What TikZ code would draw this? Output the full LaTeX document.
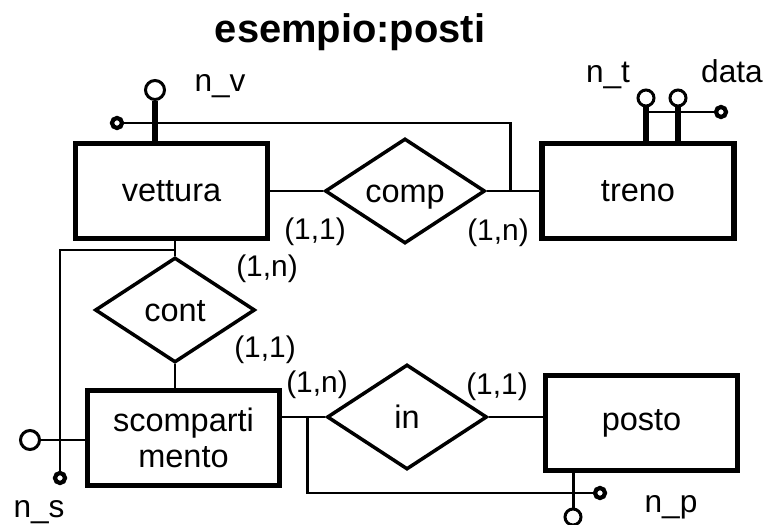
\documentclass[tikz,border=0pt]{standalone}
\usepackage{fontspec}
\setmainfont{Liberation Sans}
\usetikzlibrary{shapes.geometric,calc}

\newcommand{\relname}[1]{\raisebox{-0.35em}[0pt][0pt]{#1}}

\tikzset{
  entity/.style={draw, line width=3pt, minimum width=3.84cm, minimum height=1.9cm,
    inner sep=0pt, align=center, font=\fontsize{18.5}{20.5}\selectfont},
  relation/.style={draw, diamond, line width=2pt, minimum width=3.2cm, minimum height=2.1cm,
    inner sep=0pt, font=\fontsize{18.5}{20.5}\selectfont},
  attr/.style={draw, circle, line width=1.7pt, fill=white, inner sep=0pt, minimum size=#1},
  attr/.default=0.38cm,
  ident/.style={draw, circle, line width=2.4pt, fill=white, inner sep=0pt, minimum size=0.2cm},
  conn/.style={line width=1.7pt},
  stem/.style={line width=3pt},
  attrname/.style={anchor=base, inner sep=0pt, font=\fontsize{18}{18}\selectfont},
  card/.style={inner sep=0pt, font=\fontsize{17}{17}\selectfont}
}

\begin{document}
\begin{tikzpicture}[x=0.02cm, y=0.02cm]
  \useasboundingbox (0,0) rectangle (766,524);

  \node[anchor=base, font=\bfseries\fontsize{22.7}{24}\selectfont] (title) at (350,481) {esempio:posti};

  \node[entity] (vettura) at (171.5,333) {vettura};
  \node[entity] (treno) at (638,333) {treno};
  \node[entity] (scomp) at (183.5,86) {scomparti\\mento};
  \node[entity] (posto) at (641.5,101) {posto};

  \node[relation] (comp) at (405,333) {\relname{comp}};
  \node[relation] (cont) at (175,214) {\relname{cont}};
  \node[relation] (in) at (407,107) {\relname{in}};

  \draw[conn] (vettura) -- (comp) -- (treno);
  \draw[conn] (cont.north) -- (cont.north |- vettura.south);
  \draw[conn] (cont.south) -- (cont.south |- scomp.north);
  \draw[conn] (in.west) -- (in.west -| scomp.east);
  \draw[conn] (in.east) -- (in.east -| posto.west);

  % attributes and identifiers
  \node[attr] (nv) at (155,434) {};
  \node[ident] (idv) at (117,401) {};
  \coordinate (kv) at (510,333);
  \draw[conn] (idv) -| (kv);
  \draw[stem] (nv) -- (nv |- vettura.north);

  \node[attr=0.32cm] (nt) at (646,426) {};
  \node[attr=0.32cm] (data) at (678,426) {};
  \node[ident] (idt) at (721,412) {};
  \draw[conn] (idt) -- (idt -| nt);
  \draw[stem] (nt) -- (nt |- treno.north);
  \draw[stem] (data) -- (data |- treno.north);

  \node[attr] (ns) at (30,84) {};
  \node[ident] (ids) at (60,46) {};
  \coordinate (ks) at (175,274);
  \draw[conn] (ids) |- (ks);
  \draw[conn] (ns) -- (ns -| scomp.west);

  \node[attr=0.32cm] (np) at (573,7) {};
  \node[ident] (idp) at (600,31) {};
  \coordinate (kp) at (307,107);
  \draw[conn] (idp) -| (kp);
  \draw[conn] (np) -- (np |- posto.south);

  \node[attrname] (lnv) at (220,432) {n\_v};
  \node[attrname] (lnt) at (608,441) {n\_t};
  \node[attrname] (ldata) at (732,441) {data};
  \node[attrname] (lns) at (39,7) {n\_s};
  \node[attrname] (lnp) at (671,12) {n\_p};

  % cardinalities
  \node[card] (c1) at (315,292) {(1,1)};
  \node[card] (c2) at (498,291) {(1,n)};
  \node[card] (c3) at (267,255) {(1,n)};
  \node[card] (c4) at (265,174) {(1,1)};
  \node[card] (c5) at (317,139) {(1,n)};
  \node[card] (c6) at (497,137) {(1,1)};
\end{tikzpicture}
\end{document}
